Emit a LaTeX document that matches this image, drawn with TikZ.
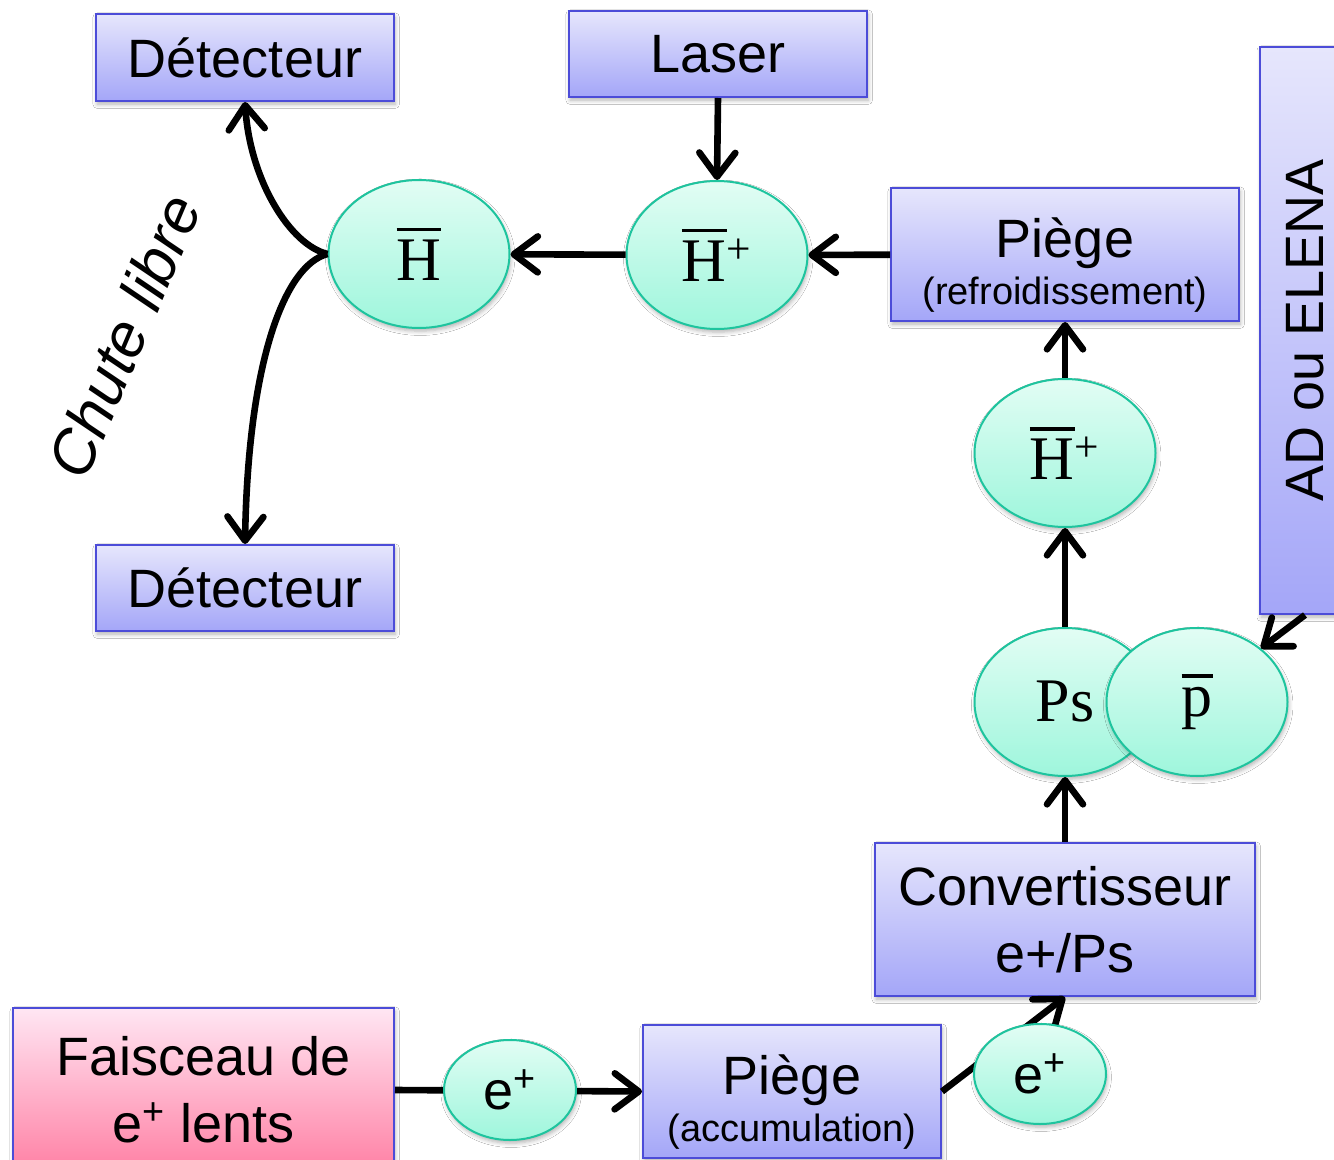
\documentclass[tikz,border=0pt]{standalone}
\usepackage{fontspec}
\setmainfont{Liberation Sans}
\newfontfamily\serf{Liberation Serif}
\usetikzlibrary{arrows.meta,shapes.geometric,shadows.blur,calc}
\definecolor{bxtop}{RGB}{230,230,252}
\definecolor{bxbot}{RGB}{164,166,248}
\definecolor{bxline}{RGB}{76,76,216}
\definecolor{eltop}{RGB}{226,253,244}
\definecolor{elbot}{RGB}{158,246,220}
\definecolor{elline}{RGB}{30,196,158}
\definecolor{pktop}{RGB}{255,230,243}
\definecolor{pkbot}{RGB}{255,128,164}
\newcommand\ovbar[2]{\leavevmode\vbox{\hrule height 1.8pt\kern #1\hbox{#2}}}
\begin{document}
\begin{tikzpicture}[x=0.5pt,y=-0.5pt,
  shd/.style={blur shadow={shadow xshift=0.6pt,shadow yshift=-1.6pt,shadow opacity=30,shadow blur steps=5}},
  box/.style={draw=bxline,line width=1pt,top color=bxtop,bottom color=bxbot,inner sep=0pt,align=center,
    font=\fontsize{27}{33.5}\selectfont,shd},
  pinkbox/.style={box,top color=pktop,bottom color=pkbot},
  part/.style={ellipse,draw=elline,line width=1pt,top color=eltop,bottom color=elbot,inner sep=0pt,shd},
  big/.style={part,minimum width=90.5pt,minimum height=74pt,font=\serf\fontsize{31}{36}\selectfont},
  small/.style={part,minimum width=66pt,minimum height=50pt,font=\fontsize{27}{30}\selectfont},
  arr/.style={line width=3.3pt,-{Straight Barb[length=12pt,width=18pt,round]}}]
\useasboundingbox (0,0) rectangle (1334,1160);
\fill[white] (0,0) rectangle (1334,1160);
\clip (0,0) rectangle (1334,1160);
% boxes
\node[box,minimum width=149pt,minimum height=43.5pt] (D1) at (245,57.5) {Détecteur};
\node[box,minimum width=149pt,minimum height=43pt] (D2) at (245,588) {Détecteur};
\node[box,minimum width=149pt,minimum height=43pt] (L) at (718,54) {Laser};
\node[box,minimum width=174pt,minimum height=66.5pt] (P1) at (1065,254.5)
  {\rule{0pt}{30pt}Piège\\[-10pt]{\fontsize{19}{22}\selectfont (refroidissement)}};
\node[box,rotate=90,minimum width=283.5pt,minimum height=45pt] (AD) at (1305,330.5) {AD ou ELENA};
\node[box,minimum width=190pt,minimum height=76.5pt] (Cv) at (1065,919.5) {Convertisseur\\e+/Ps};
\node[box,minimum width=149pt,minimum height=66.5pt] (P2) at (792,1091.5)
  {\rule{0pt}{30pt}Piège\\[-10pt]{\fontsize{19}{22}\selectfont (accumulation)}};
\node[pinkbox,minimum width=190.5pt,minimum height=82pt] (Fa) at (203.5,1090) {Faisceau de\\e\textsuperscript{+} lents};
% particles
\node[big] (Hb) at (419,254) {\ovbar{4pt}{H}};
\node[big] (Hp1) at (717,255) {\ovbar{4pt}{H}\textsuperscript{+}};
\node[big] (Hp2) at (1065,453) {\ovbar{4pt}{H}\textsuperscript{+}};
\node[big] (Ps) at (1065,702) {Ps};
\node[big] (pb) at (1197,702) {\ovbar{5pt}{p}};
% label
\node[rotate=67,font=\fontsize{31}{36}\selectfont\itshape] (cl) at (124,336) {Chute libre};
% connectors
\draw[arr] (L.south) -- (Hp1.north);
\draw[arr] (P1) -- (Hp1);
\draw[arr] (Hp1) -- (Hb);
\draw[arr] (Hb.west) .. controls (290,245) and (250,180) .. (D1.south);
\draw[arr] (Hb.west) .. controls (285,265) and (248,360) .. (D2.north);
\draw[arr] (Hp2) -- (P1);
\draw[arr] (Ps) -- (Hp2);
\draw[arr] (Cv) -- (Ps);
\draw[arr] (AD.west) -- (pb.40);
\draw[arr] (Fa.east) -- (P2.west);
\draw[arr] (P2.east) -- (Cv.south);
% positrons over the lines
\node[small] (e1) at (510,1090) {e\textsuperscript{+}};
\node[small] (e2) at (1040,1074) {e\textsuperscript{+}};
\end{tikzpicture}
\end{document}
